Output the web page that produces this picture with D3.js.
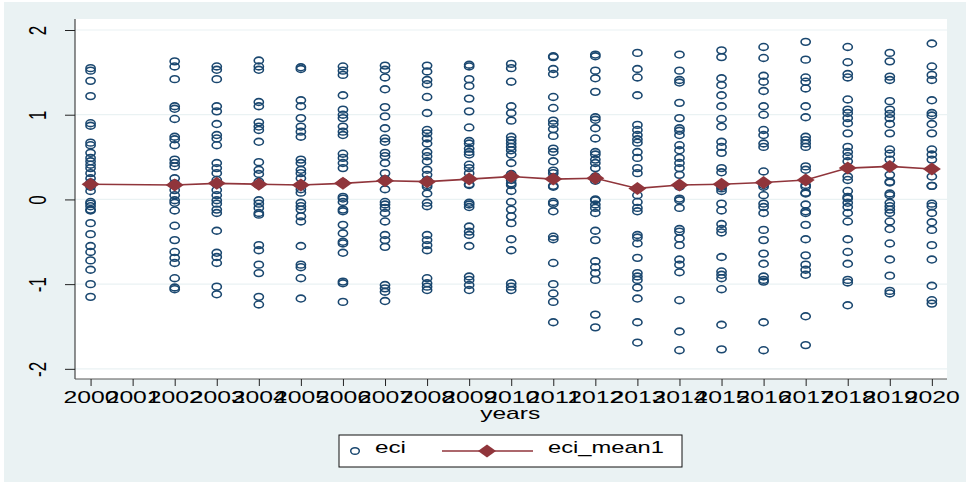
<!DOCTYPE html>
<html>
<head>
<meta charset="utf-8">
<script src="https://cdn.jsdelivr.net/npm/d3@7"></script>
<style>
  body { margin: 0; background: #fff; }
  text { font-family: "Liberation Sans", Arial, sans-serif; }
</style>
</head>
<body>
<div id="chart"></div>
<script>
// years that have eci observations (2001 has none)
const eciYears = [2000, 2002, 2003, 2004, 2005, 2006, 2007, 2008, 2009, 2010,
                  2011, 2012, 2013, 2014, 2015, 2016, 2017, 2018, 2019, 2020]

// eci values per year
const eciValues = [
  [1.55, 1.52, 1.40, 1.22, 0.90, 0.87, 0.67, 0.64, 0.55, 0.49, 0.45, 0.41, 0.37, 0.31, 0.25, 0.20, 0.15, 0.10, -0.03, -0.05, -0.08, -0.12, -0.13, -0.28, -0.41, -0.55, -0.62, -0.72, -0.83, -1.00, -1.15],
  [1.63, 1.57, 1.42, 1.10, 1.07, 0.95, 0.74, 0.71, 0.64, 0.47, 0.43, 0.39, 0.25, 0.19, 0.11, 0.05, -0.01, -0.04, -0.13, -0.31, -0.48, -0.62, -0.69, -0.75, -0.93, -1.04, -1.06],
  [1.57, 1.53, 1.42, 1.10, 1.04, 0.89, 0.76, 0.72, 0.64, 0.43, 0.37, 0.31, 0.23, 0.18, 0.11, 0.05, -0.01, -0.05, -0.12, -0.16, -0.37, -0.63, -0.68, -0.75, -1.03, -1.12],
  [1.64, 1.57, 1.53, 1.15, 1.10, 0.91, 0.86, 0.82, 0.68, 0.44, 0.35, 0.30, 0.21, 0.17, -0.01, -0.05, -0.10, -0.16, -0.18, -0.54, -0.60, -0.77, -0.87, -1.15, -1.24],
  [1.56, 1.54, 1.17, 1.10, 0.96, 0.86, 0.80, 0.74, 0.47, 0.43, 0.35, 0.31, 0.25, 0.12, 0.08, -0.04, -0.08, -0.12, -0.20, -0.26, -0.55, -0.77, -0.80, -0.93, -1.17],
  [1.57, 1.52, 1.47, 1.23, 1.06, 1.00, 0.96, 0.86, 0.80, 0.76, 0.54, 0.49, 0.43, 0.37, 0.20, 0.03, 0.01, -0.03, -0.12, -0.14, -0.30, -0.40, -0.50, -0.52, -0.63, -0.97, -0.99, -1.21],
  [1.58, 1.53, 1.44, 1.30, 1.09, 0.98, 0.84, 0.72, 0.68, 0.55, 0.51, 0.43, 0.31, 0.24, 0.12, -0.03, -0.06, -0.10, -0.16, -0.26, -0.42, -0.48, -0.56, -1.01, -1.05, -1.09, -1.20],
  [1.58, 1.51, 1.41, 1.36, 1.21, 1.02, 0.82, 0.78, 0.72, 0.66, 0.56, 0.51, 0.45, 0.35, 0.29, 0.23, 0.17, 0.15, 0.07, -0.04, -0.08, -0.42, -0.48, -0.54, -0.60, -0.93, -0.99, -1.03, -1.07],
  [1.59, 1.57, 1.42, 1.34, 1.19, 1.04, 0.85, 0.69, 0.66, 0.60, 0.56, 0.53, 0.41, 0.37, 0.31, 0.25, 0.18, 0.17, -0.04, -0.06, -0.09, -0.32, -0.38, -0.42, -0.55, -0.91, -0.95, -1.01, -1.07],
  [1.60, 1.55, 1.39, 1.10, 1.02, 0.93, 0.74, 0.70, 0.66, 0.62, 0.58, 0.53, 0.43, 0.30, 0.23, 0.19, 0.17, 0.10, -0.03, -0.12, -0.20, -0.28, -0.47, -0.60, -0.99, -1.03, -1.07],
  [1.69, 1.68, 1.54, 1.48, 1.21, 1.08, 0.93, 0.89, 0.83, 0.75, 0.60, 0.56, 0.45, 0.34, 0.31, 0.26, 0.16, 0.15, -0.03, -0.05, -0.14, -0.44, -0.47, -0.75, -1.00, -1.11, -1.21, -1.45],
  [1.71, 1.69, 1.52, 1.43, 1.27, 0.97, 0.94, 0.84, 0.72, 0.56, 0.53, 0.47, 0.43, 0.37, 0.27, 0.22, 0.00, -0.01, -0.06, -0.10, -0.16, -0.37, -0.48, -0.73, -0.80, -0.87, -0.95, -1.36, -1.51],
  [1.73, 1.54, 1.44, 1.23, 0.88, 0.82, 0.76, 0.71, 0.67, 0.56, 0.49, 0.37, 0.31, 0.05, -0.03, -0.10, -0.14, -0.42, -0.45, -0.52, -0.69, -0.87, -0.91, -0.95, -1.04, -1.17, -1.45, -1.69],
  [1.71, 1.52, 1.41, 1.38, 1.14, 0.96, 0.84, 0.81, 0.76, 0.64, 0.58, 0.49, 0.43, 0.37, 0.29, 0.15, 0.01, -0.01, -0.10, -0.35, -0.38, -0.46, -0.54, -0.71, -0.77, -0.86, -1.19, -1.56, -1.78],
  [1.76, 1.68, 1.43, 1.35, 1.23, 1.10, 0.95, 0.86, 0.68, 0.62, 0.55, 0.37, 0.32, 0.15, 0.13, 0.10, -0.05, -0.13, -0.29, -0.35, -0.39, -0.68, -0.85, -0.89, -0.93, -1.06, -1.48, -1.77],
  [1.80, 1.67, 1.46, 1.39, 1.28, 1.10, 1.00, 0.82, 0.76, 0.66, 0.62, 0.33, 0.17, 0.15, 0.05, -0.05, -0.09, -0.16, -0.36, -0.48, -0.64, -0.76, -0.91, -0.95, -0.97, -1.45, -1.78],
  [1.86, 1.65, 1.44, 1.39, 1.31, 1.10, 0.97, 0.74, 0.70, 0.66, 0.62, 0.39, 0.35, 0.17, 0.15, 0.08, 0.07, -0.06, -0.14, -0.16, -0.30, -0.47, -0.66, -0.77, -0.83, -0.89, -1.38, -1.72],
  [1.80, 1.62, 1.48, 1.44, 1.18, 1.06, 1.02, 0.96, 0.90, 0.78, 0.62, 0.56, 0.51, 0.45, 0.27, 0.23, 0.10, 0.03, 0.01, -0.04, -0.09, -0.16, -0.26, -0.47, -0.62, -0.76, -0.95, -0.98, -1.25],
  [1.73, 1.63, 1.45, 1.41, 1.16, 1.06, 1.01, 0.96, 0.89, 0.78, 0.59, 0.54, 0.47, 0.29, 0.21, 0.20, 0.07, 0.05, -0.04, -0.08, -0.12, -0.16, -0.26, -0.35, -0.52, -0.71, -0.90, -1.08, -1.11],
  [1.84, 1.57, 1.47, 1.41, 1.17, 1.02, 0.99, 0.89, 0.78, 0.59, 0.53, 0.47, 0.27, 0.16, 0.16, -0.05, -0.08, -0.16, -0.27, -0.36, -0.54, -0.71, -1.02, -1.19, -1.23]
]

// yearly mean of eci
const meanYears = [2000, 2002, 2003, 2004, 2005, 2006, 2007, 2008, 2009, 2010,
                   2011, 2012, 2013, 2014, 2015, 2016, 2017, 2018, 2019, 2020]
const meanValues = [0.18, 0.17, 0.19, 0.18, 0.17, 0.19, 0.22, 0.21, 0.24, 0.27,
                    0.24, 0.25, 0.13, 0.17, 0.18, 0.20, 0.23, 0.37, 0.39, 0.36]

const xTicks = d3.range(2000, 2021)
const yTicks = [-2, -1, 0, 1, 2]

const navy = "#1a476f"
const maroon = "#90353b"
const bgColor = "#eaf2f3"
const stretch = 1.4   // the original picture is stretched sideways

const W = 966, H = 486
let margin = { top: 19, right: 19, bottom: 107, left: 75 },
    width = W - margin.left - margin.right,
    height = H - margin.top - margin.bottom

const root = d3.select("#chart").append("svg")
    .attr("width", W)
    .attr("height", H)

// outer graph region
root.append("rect")
    .attr("x", 4).attr("y", 2)
    .attr("width", W - 4).attr("height", H - 6)
    .attr("fill", bgColor)

const svg = root.append("g")
    .attr("transform", `translate(${margin.left}, ${margin.top})`)

svg.append("rect")
    .attr("width", width)
    .attr("height", height)
    .attr("fill", "#fff")

/* scales */
let x = d3.scaleLinear()
    .domain([1999.63, 2020.36])
    .range([0, width])

let y = d3.scaleLinear()
    .domain([-2.12, 2.13])
    .range([height, 0])

/* grid */
svg.selectAll(".grid")
    .data(yTicks)
    .enter()
    .append("line")
    .attr("x1", 0)
    .attr("x2", width)
    .attr("y1", d => y(d))
    .attr("y2", d => y(d))
    .attr("stroke", bgColor)
    .attr("stroke-width", 1.2)

/* Y-axis */
const yAxis = svg.append("g")
    .call(d3.axisLeft(y).tickValues(yTicks).tickFormat(d => String(d))
        .tickSize(10).tickSizeOuter(0).tickPadding(0))
yAxis.select(".domain").attr("stroke", "#222").attr("d", `M0,0V${height}`)
yAxis.selectAll(".tick line").attr("stroke", "#222")
yAxis.selectAll(".tick text")
    .attr("x", null).attr("dy", null)
    .attr("text-anchor", "middle")
    .attr("font-size", 17)
    .attr("fill", "#000")
    .attr("transform", `translate(${40 - margin.left + 6}, 0) scale(${stretch}, 1) rotate(-90)`)

/* X-axis */
const xAxis = svg.append("g")
    .attr("transform", `translate(0, ${height})`)
    .call(d3.axisBottom(x).tickValues(xTicks).tickFormat(d3.format("d")).tickSize(7).tickSizeOuter(0))
xAxis.select(".domain").attr("stroke", "#555").attr("d", `M0,0H${width}`)
xAxis.selectAll(".tick line").attr("stroke", "#222")
xAxis.selectAll(".tick text")
    .attr("y", 24).attr("dy", null)
    .attr("font-size", 17)
    .attr("fill", "#000")
    .attr("textLength", 55)
    .attr("lengthAdjust", "spacingAndGlyphs")

svg.append("text")
    .attr("text-anchor", "middle")
    .attr("x", x(2010) - 1)
    .attr("y", height + 40)
    .attr("font-size", 17)
    .attr("textLength", 60)
    .attr("lengthAdjust", "spacingAndGlyphs")
    .text("years")

/* points */
const points = eciYears.flatMap((yr, i) => eciValues[i].map(v => ({ year: yr, value: v })))

svg.selectAll("ellipse.eci")
    .data(points)
    .enter()
    .append("ellipse")
    .attr("class", "eci")
    .attr("cx", d => x(d.year))
    .attr("cy", d => y(d.value))
    .attr("rx", 4.6)
    .attr("ry", 3.4)
    .attr("fill", "none")
    .attr("stroke", navy)
    .attr("stroke-width", 1.6)

/* mean line */
const meanData = meanYears.map((yr, i) => ({ year: yr, value: meanValues[i] }))
const diamond = "M-9,0L0,-6.5L9,0L0,6.5Z"

svg.append("path")
    .datum(meanData)
    .attr("fill", "none")
    .attr("stroke", maroon)
    .attr("stroke-width", 1.6)
    .attr("d", d3.line().x(d => x(d.year)).y(d => y(d.value)))

svg.selectAll("path.mean")
    .data(meanData)
    .enter()
    .append("path")
    .attr("class", "mean")
    .attr("transform", d => `translate(${x(d.year)}, ${y(d.value)})`)
    .attr("d", diamond)
    .attr("fill", maroon)

/* legend */
const legend = root.append("g").attr("transform", "translate(339, 435)")
legend.append("rect")
    .attr("width", 343).attr("height", 32)
    .attr("fill", "#fff").attr("stroke", "#111").attr("stroke-width", 1)
legend.append("ellipse")
    .attr("cx", 16).attr("cy", 16)
    .attr("rx", 4.3).attr("ry", 3.3)
    .attr("fill", "none").attr("stroke", navy).attr("stroke-width", 1.5)
legend.append("text")
    .attr("x", 36).attr("y", 18)
    .attr("font-size", 17)
    .attr("textLength", 31).attr("lengthAdjust", "spacingAndGlyphs")
    .text("eci")
legend.append("line")
    .attr("x1", 103).attr("x2", 194).attr("y1", 16).attr("y2", 16)
    .attr("stroke", maroon).attr("stroke-width", 1.6)
legend.append("path")
    .attr("transform", "translate(148, 16)")
    .attr("d", diamond)
    .attr("fill", maroon)
legend.append("text")
    .attr("x", 209).attr("y", 18)
    .attr("font-size", 17)
    .attr("textLength", 116).attr("lengthAdjust", "spacingAndGlyphs")
    .text("eci_mean1")
</script>
</body>
</html>
